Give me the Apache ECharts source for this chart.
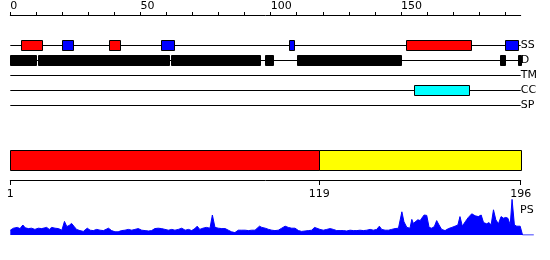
<!DOCTYPE html>
<html>
<head>
<meta charset="utf-8">
<script src="https://cdn.jsdelivr.net/npm/echarts@6/dist/echarts.min.js"></script>
<style>html,body{margin:0;padding:0;background:#fff}#c{width:550px;height:260px}</style>
</head>
<body>
<div id="c"></div>
<script>
// ---- data ----
const seqLength = 196;
const trackNames = ['SS', 'D', 'TM', 'CC', 'SP'];
const trackRows = [2, 3, 4, 5, 6];
// features: [start, end, colour]
const ssFeatures = [[5, 12, 'red'], [21, 24, 'blue'], [39, 42, 'red'], [59, 63, 'blue'], [108, 109, 'blue'], [153, 177, 'red'], [191, 195, 'blue']];
const dFeatures = [[1, 10], [11, 61], [62, 96], [99, 101], [111, 150], [189, 190], [196, 196]];
const ccFeatures = [[156, 176]];
const domainBars = [[1, 119, 'red'], [119, 196, 'yellow']];
const bottomTicks = [1, 119, 196];
const psPos = [1, 2.2, 2.8, 3.7, 4.7, 5.8, 6.7, 7.9, 9.1, 10.4, 11.7, 13.0, 13.6, 14.9, 15.9, 16.8, 18.1, 19.4, 20.7, 21.7, 22.6, 23.5, 24.4, 25.3, 26.3, 27.6, 28.9, 30.4, 31.5, 32.7, 34.0, 35.3, 36.6, 38.5, 39.7, 41.0, 42.2, 43.5, 44.8, 46.1, 47.4, 48.6, 49.9, 51.2, 52.5, 53.8, 55.0, 56.2, 57.5, 58.8, 60.1, 61.4, 62.7, 63.9, 65.2, 66.5, 67.8, 69.1, 70.3, 71.5, 72.4, 73.4, 74.6, 75.9, 77.3, 78.2, 79.2, 80.5, 81.8, 83.1, 84.3, 85.5, 86.8, 88.1, 89.4, 90.7, 92.0, 93.2, 94.5, 96.2, 97.1, 98.4, 99.7, 100.9, 102.1, 103.4, 104.7, 106.0, 107.2, 108.5, 109.8, 111.1, 112.3, 113.6, 114.9, 116.2, 117.2, 118.1, 119.3, 120.6, 121.9, 123.2, 124.4, 125.7, 127.0, 128.3, 129.5, 130.8, 132.1, 133.4, 134.6, 135.9, 137.2, 138.5, 139.7, 141.0, 142.0, 142.9, 144.2, 145.5, 146.7, 148.0, 149.3, 150.6, 151.4, 152.5, 153.7, 154.4, 155.0, 155.6, 156.7, 157.6, 158.2, 159.1, 160.1, 161.0, 162.0, 163.0, 163.9, 164.8, 165.8, 167.1, 168.4, 169.7, 170.9, 172.0, 172.8, 173.7, 174.8, 176.0, 177.3, 178.6, 179.8, 180.9, 181.8, 183.0, 183.9, 184.7, 185.6, 186.5, 187.5, 188.5, 189.4, 190.3, 191.1, 192.0, 192.7, 193.6, 194.5, 195.8, 196.7, 201];
const psVal = [12, 17, 14, 19, 16, 25, 18, 16, 17, 14, 17, 16, 12, 19, 14, 19, 17, 16, 12, 34, 21, 24, 29, 22, 14, 11, 9, 17, 12, 11, 14, 12, 11, 17, 11, 8, 8, 11, 12, 14, 12, 14, 16, 12, 11, 10, 11, 16, 17, 16, 14, 12, 14, 12, 14, 17, 12, 14, 11, 16, 22, 14, 17, 19, 17, 50, 19, 17, 16, 16, 12, 8, 6, 12, 12, 12, 11, 12, 12, 22, 19, 17, 14, 12, 11, 12, 17, 22, 19, 17, 17, 11, 9, 10, 11, 12, 19, 17, 14, 12, 14, 16, 14, 11, 11, 11, 10, 12, 11, 11, 12, 11, 12, 14, 12, 14, 22, 14, 12, 12, 14, 16, 17, 58, 33, 19, 17, 39, 29, 33, 38, 36, 42, 50, 49, 19, 17, 21, 36, 25, 14, 11, 16, 19, 22, 25, 46, 22, 33, 44, 53, 48, 46, 50, 31, 28, 31, 25, 63, 38, 28, 46, 42, 44, 42, 25, 89, 25, 22, 22, 0, 0];

// ---- build ----
const colourMap = {red: '#ff0000', blue: '#0000ff', black: '#000000', cyan: '#00ffff', yellow: '#ffff00'};
const rowOf = name => trackRows[trackNames.indexOf(name)];
const featureData = [];
function addFeatures(list, row, colourFn) {
  list.forEach((f, i) => {
    const adjacent = i > 0 && list[i - 1][1] === f[0] - 1 ? 1 : 0;
    featureData.push([f[0] - 1, f[1], row, colourFn(f), adjacent]);
  });
}
addFeatures(ssFeatures, rowOf('SS'), f => f[2]);
addFeatures(dFeatures, rowOf('D'), () => 'black');
addFeatures(ccFeatures, rowOf('CC'), () => 'cyan');
const lineData = trackRows.map(r => [0, seqLength, r]);
const psData = psPos.map((p, i) => [p, psVal[i]]);
const font = 'DejaVu Sans';
const left = 10.3, plotW = 510.4;
const pxPerRes = plotW / (seqLength - 1);

const chart = echarts.init(document.getElementById('c'), null, {renderer: 'canvas'});
chart.setOption({
  animation: false,
  backgroundColor: '#ffffff',
  textStyle: {fontFamily: font},
  title: {text: 'PS', left: 520, top: 205, textStyle: {fontSize: 11, fontWeight: 'normal', color: '#000', fontFamily: font}, padding: 0},
  grid: [
    {left: left, width: plotW, top: 15, height: 105},
    {left: left, width: plotW, top: 150, height: 30},
    {left: left, width: pxPerRes * (201 - 1), top: 195, height: 40}
  ],
  xAxis: [
    {gridIndex: 0, type: 'value', position: 'top', min: 0, max: seqLength, interval: 10,
     axisLine: {lineStyle: {color: '#000', width: 1}},
     axisTick: {length: 3, lineStyle: {color: '#000'}},
     axisLabel: {formatter: v => (v % 50 === 0 ? String(v) : ''), align: 'left', margin: 3, fontSize: 11, color: '#000', fontFamily: font, showMaxLabel: false},
     splitLine: {show: false}},
    {gridIndex: 1, type: 'value', position: 'bottom', min: 1, max: seqLength,
     axisLine: {lineStyle: {color: '#000', width: 1}},
     axisTick: {length: 5, customValues: bottomTicks, lineStyle: {color: '#000'}},
     axisLabel: {customValues: bottomTicks, margin: 9, fontSize: 11, color: '#000', fontFamily: font},
     splitLine: {show: false}},
    {gridIndex: 2, type: 'value', min: 1, max: 201, show: false, splitLine: {show: false}}
  ],
  yAxis: [
    {gridIndex: 0, type: 'value', min: 0, max: 7, interval: 1, inverse: true, position: 'right',
     axisLine: {show: false}, axisTick: {show: false}, splitLine: {show: false},
     axisLabel: {margin: 0, fontSize: 11, color: '#000', fontFamily: font,
       formatter: v => { const i = trackRows.indexOf(v); return i >= 0 ? trackNames[i] : ''; }}},
    {gridIndex: 1, type: 'value', min: 0, max: 3, show: false, splitLine: {show: false}},
    {gridIndex: 2, type: 'value', min: 0, max: 100, show: false, splitLine: {show: false}}
  ],
  series: [
    {type: 'custom', xAxisIndex: 0, yAxisIndex: 0, data: lineData, silent: true,
     renderItem: (params, api) => {
       const a = api.coord([api.value(0), api.value(2)]);
       const b = api.coord([api.value(1), api.value(2)]);
       const y = Math.round(a[1]) + 0.5;
       return {type: 'line', shape: {x1: a[0], y1: y, x2: b[0], y2: y}, style: {stroke: '#000', lineWidth: 1}};
     }},
    {type: 'custom', xAxisIndex: 0, yAxisIndex: 0, data: featureData, silent: true,
     encode: {x: [0, 1], y: 2},
     renderItem: (params, api) => {
       const a = api.coord([api.value(0), api.value(2)]);
       const b = api.coord([api.value(1), api.value(2)]);
       const x0 = Math.round(a[0]) + (api.value(4) ? 2 : 0);
       const x1 = Math.round(b[0]);
       const yc = Math.round(a[1]);
       const colour = colourMap[featureData[params.dataIndex][3]];
       return {type: 'rect', shape: {x: x0 + 0.5, y: yc - 4.5, width: Math.max(x1 - x0, 1), height: 10},
               style: {fill: colour, stroke: '#000', lineWidth: 1}};
     }},
    {type: 'custom', xAxisIndex: 1, yAxisIndex: 1, data: domainBars, silent: true,
     encode: {x: [0, 1]},
     renderItem: (params, api) => {
       const a = api.coord([api.value(0), 3]);
       const b = api.coord([api.value(1), 1]);
       const x0 = Math.round(a[0]) + 0.5, x1 = Math.round(b[0]) + 0.5;
       return {type: 'rect', shape: {x: x0, y: Math.round(a[1]) + 0.5, width: x1 - x0, height: Math.round(b[1]) - Math.round(a[1])},
               style: {fill: colourMap[domainBars[params.dataIndex][2]], stroke: '#000', lineWidth: 1}};
     }},
    {type: 'line', xAxisIndex: 2, yAxisIndex: 2, data: psData, symbol: 'none', silent: true,
     lineStyle: {color: '#0000ff', width: 1}, areaStyle: {color: '#0000ff', opacity: 1}, itemStyle: {color: '#0000ff'}}
  ]
});
</script>
</body>
</html>
